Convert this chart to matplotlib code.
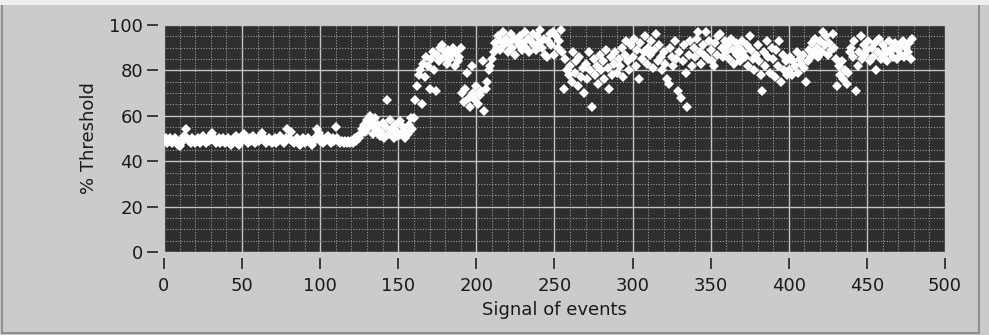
import numpy as np
import matplotlib.pyplot as plt
from matplotlib.ticker import MultipleLocator
from matplotlib.patches import Rectangle

# % threshold por evento (um valor por evento)
thr_000_049 = [49, 50, 48, 49, 50, 48, 49, 50, 49, 47,
               46.5, 48, 50, 51, 54, 50, 49, 48, 50, 49,
               48, 49, 50, 48, 49, 51, 49, 48, 50, 49,
               51, 52.5, 50, 48, 49, 50, 48, 49, 50, 48,
               49, 50, 48, 47, 49, 50, 51, 48, 47, 49]
thr_050_099 = [51, 52, 50, 49, 48, 50, 49, 51, 48, 49,
               50, 49, 51, 52.5, 50, 48, 49, 50, 49, 48,
               49, 50, 48, 49, 51, 50, 49, 48, 50, 54,
               50, 53, 49, 48, 49, 50, 48, 47, 49, 50,
               48, 49, 50, 49, 48, 47, 49, 50, 54, 52.5]
thr_100_149 = [49, 50, 48, 49, 50, 51, 49, 48, 50, 49,
               55, 50, 49, 48, 49, 48, 49, 48, 49, 48,
               49, 48, 50, 49, 51, 50, 52, 54, 56, 53,
               58, 55, 60, 57, 52, 59, 54, 56, 51, 53,
               57, 50, 55, 67, 52, 58, 54, 50, 56, 53]
thr_150_199 = [51, 57.5, 52, 55, 50, 53, 52, 56, 59, 54,
               59, 67, 73, 78, 80, 65, 83, 77, 86, 82,
               72, 85, 88, 80, 71, 87, 84, 90, 91, 86,
               88, 83, 89, 85, 87, 90, 82, 88, 84, 86,
               90, 70, 66, 72, 79, 68, 64, 82, 70, 67]
thr_200_249 = [73, 65, 69, 71, 84, 62, 72, 75, 80, 82,
               85, 88, 92, 90, 95, 89, 93, 97, 91, 94,
               88, 92, 96, 90, 94, 87, 93, 91, 95, 89,
               92, 97, 90, 94, 88, 93, 96, 91, 89, 95,
               92, 98, 90, 94, 87, 86, 93, 96, 91, 97]
thr_250_299 = [87, 95, 90, 93, 98, 88, 72, 85, 80, 78,
               82, 75, 88, 79, 84, 73, 86, 77, 81, 70,
               83, 76, 88, 80, 64, 85, 78, 82, 74, 87,
               80, 84, 76, 89, 81, 72, 86, 78, 83, 88,
               79, 85, 82, 90, 77, 87, 93, 84, 80, 91]
thr_300_349 = [86, 94, 82, 89, 76, 92, 85, 88, 95, 83,
               90, 87, 93, 81, 89, 96, 84, 91, 86, 80,
               88, 83, 76, 74, 90, 86, 82, 93, 85, 71,
               88, 68, 84, 91, 79, 64, 87, 93, 82, 90,
               86, 94, 97, 88, 83, 91, 87, 97, 85, 93]
thr_350_399 = [89, 84, 82, 92, 87, 95, 96, 90, 86, 93,
               88, 91, 85, 94, 89, 83, 92, 87, 90, 84,
               93, 88, 86, 91, 82, 95, 89, 85, 80, 87,
               91, 84, 78, 71, 88, 82, 93, 86, 79, 90,
               85, 77, 89, 82, 93, 75, 87, 80, 84, 78]
thr_400_449 = [80, 86, 78, 84, 82, 88, 79, 85, 83, 87,
               81, 75, 84, 89, 86, 92, 88, 94, 90, 86,
               93, 88, 97, 91, 95, 87, 92, 89, 96, 90,
               85, 73, 82, 78, 84, 76, 80, 74, 79, 88,
               90, 86, 93, 71, 82, 88, 95, 85, 91, 87]
thr_450_479 = [89, 93, 84, 90, 86, 92, 80, 88, 94, 85,
               91, 87, 89, 84, 93, 88, 90, 86, 92, 85,
               89, 91, 87, 93, 86, 90, 88, 92, 85, 94]

threshold = (thr_000_049 + thr_050_099 + thr_100_149 + thr_150_199 + thr_200_249
             + thr_250_299 + thr_300_349 + thr_350_399 + thr_400_449 + thr_450_479)
eventos = np.arange(len(threshold))

x_ticks = [0, 50, 100, 150, 200, 250, 300, 350, 400, 450, 500]
y_ticks = [0, 20, 40, 60, 80, 100]

fig = plt.figure(figsize=(9.89, 3.35), dpi=100)
fig.patch.set_facecolor('#cbcbcb')
# moldura do painel (estilo labview)
fig.patches.append(Rectangle((0.002, 0.006), 0.988, 0.985, transform=fig.transFigure,
                             fill=False, edgecolor='#8f8f8f', lw=1.5))
fig.patches.append(Rectangle((0.0, 0.985), 1.0, 0.015, transform=fig.transFigure,
                             facecolor='#efefef', edgecolor='none'))

ax = fig.add_axes([0.1658, 0.2478, 0.7897, 0.6776])
ax.set_facecolor('#2e2e2e')

ax.plot(eventos, threshold, linestyle='none', marker='D', markersize=4.6,
        color='white', markeredgewidth=0, zorder=3)

ax.set_xlim(0, 500)
ax.set_ylim(0, 100)
ax.set_xticks(x_ticks)
ax.set_yticks(y_ticks)
ax.xaxis.set_minor_locator(MultipleLocator(10))
ax.yaxis.set_minor_locator(MultipleLocator(5))

ax.grid(which='major', color='#c4c4c4', lw=1.0, zorder=1)
ax.grid(which='minor', color='#9c9c9c', lw=0.8, linestyle=(0, (1, 1.5)), zorder=1)
ax.set_axisbelow(True)

for s in ax.spines.values():
    s.set_visible(False)
ax.spines['left'].set_position(('outward', 4))
ax.spines['bottom'].set_position(('outward', 4))

ax.tick_params(which='minor', length=0)
ax.tick_params(axis='y', which='major', length=8, width=1.2, color='#222222',
               pad=3, labelsize=13, labelcolor='#1a1a1a')
ax.tick_params(axis='x', which='major', length=8, width=1.2, color='#222222',
               pad=6, labelsize=13, labelcolor='#1a1a1a')

ax.set_xlabel('Signal of events', fontsize=13, color='#1a1a1a', labelpad=4)
ax.set_ylabel('% Threshold', fontsize=13, color='#1a1a1a', labelpad=8)

fig.savefig('out.png', dpi=100, facecolor=fig.get_facecolor())
